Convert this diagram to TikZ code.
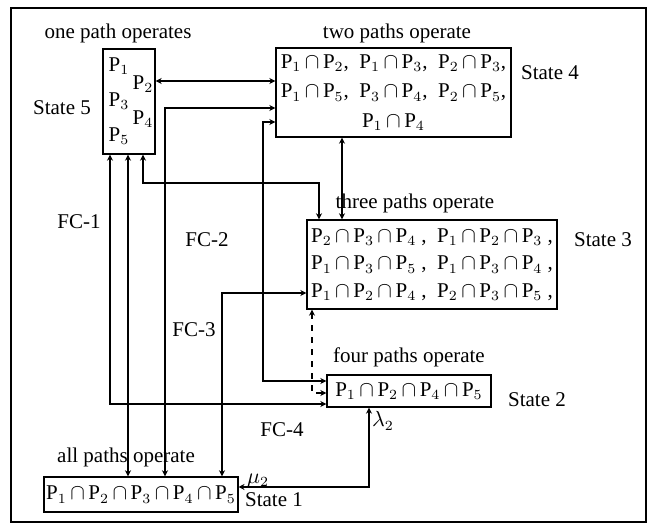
\documentclass[tikz,border=0pt]{standalone}
\usepackage{fontspec}
\setmainfont{Liberation Serif}
\usetikzlibrary{
    arrows.meta,
    positioning,
    calc
}
\newcommand{\Pp}[1]{P$_{#1}$}
\newcommand{\cp}{\,$\cap$\,}

\begin{document}
\begin{tikzpicture}[
    x=0.5pt,
    y=-0.5pt,
    font=\fontsize{10.5}{12.6}\selectfont,
%
    statebox/.style={
        draw,
        line width=0.7pt,
        inner sep=1pt,
        align=center
    },
%
    arrow/.style={
        {Stealth[length=3pt,width=3pt]}-{Stealth[length=3pt,width=3pt]},
        line width=0.55pt
    },
%
    tag/.style={
        inner sep=0pt
    }
]
\useasboundingbox (0,0) rectangle (650,528);
\draw[line width=0.7pt] (11,8) rectangle (646,522);
%
% The five states, from one path up to all paths operating.
%
\node[
    statebox,
    minimum width=26pt,
    minimum height=52.5pt
] (s5) at (129,101.5) {};
\node[tag] (p1) at (119,66) {\Pp1};
\node[tag] (p2) at (143,84) {\Pp2};
\node[tag] (p3) at (119,101) {\Pp3};
\node[tag] (p4) at (143,119) {\Pp4};
\node[tag] (p5) at (119,136) {\Pp5};
\node[
    statebox,
    minimum width=117.5pt,
    minimum height=44.5pt,
    font=\fontsize{10.5}{14.75}\selectfont
] (s4) at (393.5,92.5) {
    \Pp1\cp\Pp2,\enspace \Pp1\cp\Pp3,\enspace \Pp2\cp\Pp3,\\
    \Pp1\cp\Pp5,\enspace \Pp3\cp\Pp4,\enspace \Pp2\cp\Pp5,\\
    \Pp1\cp\Pp4
};
\node[
    statebox,
    minimum width=125pt,
    minimum height=44.5pt,
    font=\fontsize{10.5}{13.75}\selectfont
] (s3) at (432,264.5) {
    \Pp2\cp\Pp3\cp\Pp4 ,\enspace \Pp1\cp\Pp2\cp\Pp3 ,\\
    \Pp1\cp\Pp3\cp\Pp5 ,\enspace \Pp1\cp\Pp3\cp\Pp4 ,\\
    \Pp1\cp\Pp2\cp\Pp4 ,\enspace \Pp2\cp\Pp3\cp\Pp5 ,
};
\node[
    statebox,
    minimum width=82pt,
    minimum height=16pt
] (s2) at (409,391) {\Pp1\cp\Pp2\cp\Pp4\cp\Pp5};
\node[
    statebox,
    minimum width=92pt,
    minimum height=17.5pt
] (s1) at (141,494.5) {\Pp1\cp\Pp2\cp\Pp3\cp\Pp4\cp\Pp5};
%
% Titles and state names.
%
\node (t5) at (118,33) {one path operates};
\node (t4) at (397,33) {two paths operate};
\node (t3) at (415,203) {three paths operate};
\node[above=0pt of s2] (t2) {four paths operate};
\node (t1) at (126,457) {all paths operate};
\node (n5) at (62,108) {State 5};
\node (n4) at (550,73) {State 4};
\node (n3) at (603,240) {State 3};
\node (n2) at (537,400) {State 2};
\node (n1) at (274,500) {State 1};
\node (fc1) at (79,222) {FC-1};
\node (fc2) at (207,240) {FC-2};
\node (fc3) at (194,330) {FC-3};
\node (fc4) at (282,430) {FC-4};
%
% Lanes of the connectors.
%
\coordinate (x110) at (110,0);
\coordinate (x128) at (128,0);
\coordinate (x143) at (143,0);
\coordinate (x165) at (165,0);
\coordinate (x222) at (222,0);
\coordinate (x263) at (263,0);
\coordinate (x312) at (312,0);
\coordinate (x319) at (319,0);
\coordinate (x342) at (342,0);
\coordinate (x369) at (369,0);
\coordinate (y81) at (0,81);
\coordinate (y108) at (0,108);
\coordinate (y122) at (0,122);
\coordinate (y183) at (0,183);
\coordinate (y293) at (0,293);
\coordinate (y381) at (0,381);
\coordinate (y393) at (0,393);
\coordinate (y404) at (0,404);
\coordinate (y487) at (0,487);
%
\draw[arrow] (s5.east |- y81) -- (s4.west |- y81);
\draw[arrow] (s5.south -| x110) -- (x110 |- y404) -- (s2.west |- y404);
\draw[arrow] (s5.south -| x128) -- (s1.north -| x128);
\draw[arrow] (s5.south -| x143) -- (x143 |- y183) -- (x319 |- y183) -- (s3.north -| x319);
\draw[arrow] (s1.north -| x165) -- (x165 |- y108) -- (s4.west |- y108);
\draw[arrow] (s1.north -| x222) -- (x222 |- y293) -- (s3.west |- y293);
\draw[arrow] (s4.west |- y122) -- (x263 |- y122) -- (x263 |- y381) -- (s2.west |- y381);
\draw[arrow] (s4.south -| x342) -- (s3.north -| x342);
\draw[arrow, dashed] (s3.south -| x312) -- (x312 |- y393) -- (s2.west |- y393);
\draw[arrow] (s1.east |- y487) -- (x369 |- y487) -- (s2.south -| x369);
\node[tag] (lam) at (383,421) {$\lambda_2$};
\node[tag] (mu) at (258,481) {$\mu_2$};
\end{tikzpicture}
\end{document}
